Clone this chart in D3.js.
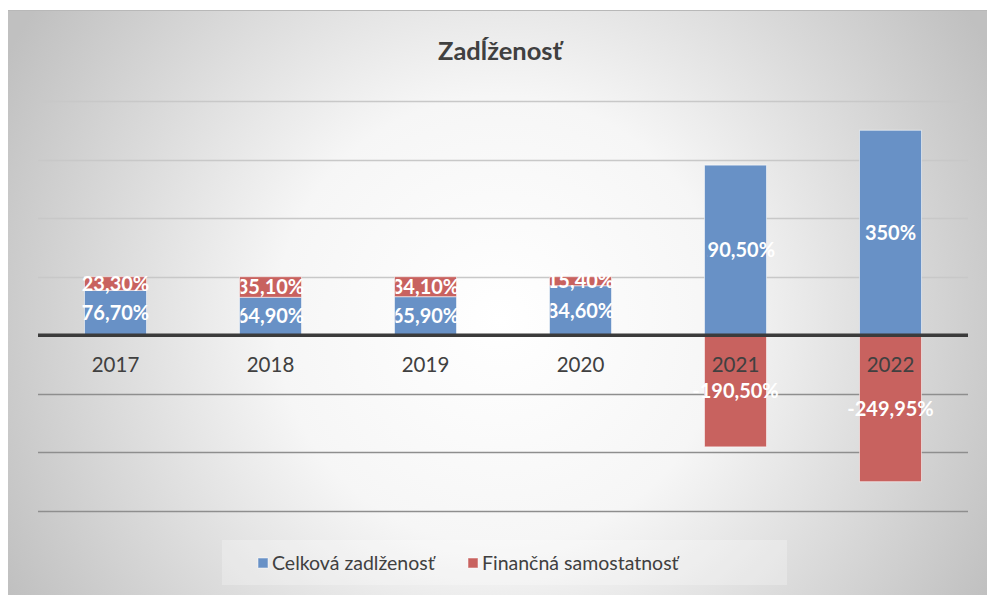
<!DOCTYPE html>
<html><head><meta charset="utf-8">
<script src="https://cdn.jsdelivr.net/npm/d3@7"></script>
<style>html,body{margin:0;padding:0;background:#fff;}svg{display:block;}</style>
</head><body>
<script>
const categories = ["2017","2018","2019","2020","2021","2022"];
const celkova = [76.70, 64.90, 65.90, 84.60, 290.50, 350];
const financna = [23.30, 35.10, 34.10, 15.40, -190.50, -249.95];
const yTicks = [-300,-200,-100,0,100,200,300,400];
const seriesNames = ["Celková zadlženosť","Finančná samostatnosť"];
const colors = ["#6891c6","#c8625f"];
const title = "Zadĺženosť";

const W = 987, H = 595;
const svg = d3.select("body").append("svg").attr("width", W).attr("height", H);
const defs = svg.append("defs");
const rg = defs.append("radialGradient").attr("id","bg").attr("gradientUnits","userSpaceOnUse")
  .attr("cx", 500).attr("cy", 320).attr("r", 560);
rg.append("stop").attr("offset","0").attr("stop-color","#ffffff");
rg.append("stop").attr("offset","0.4").attr("stop-color","#f6f6f6");
rg.append("stop").attr("offset","1").attr("stop-color","#c0c0c0");
svg.append("rect").attr("x",8).attr("y",10).attr("width",W-8).attr("height",H-10).attr("fill","url(#bg)");
svg.append("line").attr("x1",8).attr("x2",W).attr("y1",10.5).attr("y2",10.5).attr("stroke","#b8b8b8").attr("stroke-width",1);

const font = "Lato, 'Open Sans', sans-serif";
const x = d3.scaleBand().domain(categories).range([38, 968]).paddingInner(0.6).paddingOuter(0.3);
const y = d3.scaleLinear().domain([-300, 400]).range([511, 101]);

// gridlines
svg.append("g").selectAll("line").data(yTicks.filter(t => t !== 0)).join("line")
  .attr("x1", 38).attr("x2", 968)
  .attr("y1", d => Math.round(y(d)) + 0.5).attr("y2", d => Math.round(y(d)) + 0.5)
  .attr("stroke", d => d > 0 ? "#c8c8c8" : "#8e8e8e").attr("stroke-width", 1.3);

// bars
const data = categories.map((c, i) => ({c, a: celkova[i], b: financna[i]}));
const segs = [];
data.forEach(d => {
  segs.push({c: d.c, y0: 0, y1: d.a, v: d.a, s: 0});
  if (d.b >= 0) segs.push({c: d.c, y0: d.a, y1: d.a + d.b, v: d.b, s: 1});
  else segs.push({c: d.c, y0: 0, y1: d.b, v: d.b, s: 1});
});
svg.append("g").selectAll("rect").data(segs).join("rect")
  .attr("x", d => x(d.c)).attr("width", x.bandwidth())
  .attr("y", d => y(Math.max(d.y0, d.y1))).attr("height", d => Math.abs(y(d.y0) - y(d.y1)))
  .attr("fill", d => colors[d.s]).attr("stroke", "rgba(255,255,255,0.55)").attr("stroke-width", 1);

// zero axis
svg.append("line").attr("x1", 38).attr("x2", 968).attr("y1", y(0)).attr("y2", y(0))
  .attr("stroke", "#3b3b3b").attr("stroke-width", 3.5);

// category labels
svg.append("g").selectAll("text").data(categories).join("text")
  .attr("x", d => x(d) + x.bandwidth()/2).attr("y", y(0) + 37)
  .attr("text-anchor", "middle").attr("font-family", font).attr("font-size", 20.5)
  .attr("fill", "#404040").text(d => d);

// data labels (clipped at left near bar edge)
const fmt = v => (Math.round(v*100)/100).toString().replace(".", ",").replace(/,(\d)$/, ",$10") + "%";
segs.forEach((d, i) => {
  defs.append("svg:clipPath").attr("id", "lblclip" + i)
    .attr("clipPathUnits", "userSpaceOnUse")
    .append("rect")
    .attr("x", x(d.c) + (d.c === "2021" ? 3 : 1)).attr("y", 0).attr("width", x.bandwidth() + 60).attr("height", H);
});
svg.append("g").selectAll("text").data(segs).join("text")
  .attr("clip-path", (d, i) => (d.c === "2017" || d.v < 0) ? null : "url(#lblclip" + i + ")")
  .attr("x", d => x(d.c) + x.bandwidth()/2).attr("y", d => y((d.y0 + d.y1)/2))
  .attr("dy", "0.36em").attr("text-anchor", "middle")
  .attr("font-family", font).attr("font-weight", "bold").attr("font-size", 20)
  .attr("fill", "#ffffff").text(d => fmt(d.v));

// title
svg.append("text").attr("x", 500).attr("y", 60).attr("text-anchor", "middle")
  .attr("font-family", font).attr("font-weight", "bold").attr("font-size", 25.5)
  .attr("fill", "#404040").text(title);

// legend
svg.append("rect").attr("x", 222).attr("y", 540).attr("width", 565).attr("height", 45)
  .attr("fill", "rgba(255,255,255,0.25)");
const legX = [258, 468];
const lg = svg.append("g").selectAll("g").data(seriesNames).join("g")
  .attr("transform", (d, i) => `translate(${legX[i]},563)`);
lg.append("rect").attr("x", 0).attr("y", -5).attr("width", 10).attr("height", 10)
  .attr("fill", (d, i) => colors[i]).attr("stroke", "rgba(255,255,255,0.5)");
lg.append("text").attr("x", 14).attr("dy", "0.36em").attr("font-family", font)
  .attr("font-size", 19.5).attr("fill", "#404040").text(d => d);
</script>
</body></html>
